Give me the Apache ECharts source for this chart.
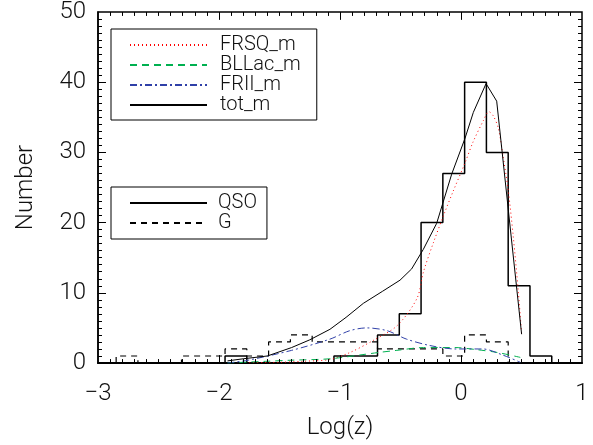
<!DOCTYPE html>
<html>
<head>
<meta charset="utf-8">
<script src="https://cdn.jsdelivr.net/npm/echarts@6/dist/echarts.min.js"></script>
<style>
html,body{margin:0;padding:0;background:#fff;}
#chart{width:593px;height:445px;}
</style>
</head>
<body>
<div id="chart"></div>
<script>
// Histogram bins (Log z), 20 bins
var binEdges = [-2.85,-2.67,-2.49,-2.31,-2.13,-1.95,-1.77,-1.59,-1.41,-1.23,-1.05,-0.87,-0.69,-0.51,-0.33,-0.15,0.03,0.21,0.39,0.57,0.75];
var qsoCounts = [0,0,0,0,0,1,0,0,0,0,1,1,4,7,20,27,40,30,11,1];
var gCounts   = [1,0,0,1,1,2,1,3,4,3,3,3,2,2,2,1,4,3,0,0];

// Model curves
var frsqX = [-1.75,-1.5,-1.3,-1.083,-0.917,-0.727,-0.529,-0.364,-0.31,-0.229,-0.138,-0.064,0.033,0.10,0.184,0.23,0.267,0.309,0.35,0.391,0.432,0.474,0.501];
var frsqY = [0.05,0.1,0.25,0.5,1.5,3.2,5.3,9.2,13.0,17.1,21.3,24.5,28.5,31.5,34.5,35.8,35.2,33.4,29.2,24.5,18.0,10.1,4.1];

var bllacX = [-1.93,-1.6,-1.4,-1.083,-0.81,-0.68,-0.53,-0.31,-0.05,0.13,0.30,0.49];
var bllacY = [0.0,0.25,0.4,0.6,1.2,1.5,1.8,2.2,2.2,1.9,1.5,0.8];

var friiX = [-1.93,-1.76,-1.40,-1.083,-0.92,-0.78,-0.61,-0.45,-0.26,-0.05,0.18,0.35,0.49];
var friiY = [0.0,0.4,1.8,3.4,4.6,5.0,4.6,3.4,2.5,2.0,2.0,1.1,0.1];

var totX = [-1.93,-1.8,-1.6,-1.4,-1.25,-1.083,-0.95,-0.807,-0.65,-0.504,-0.408,-0.311,-0.201,-0.077,0.033,0.102,0.207,0.295,0.501];
var totY = [0.3,0.6,1.0,2.2,3.3,4.8,6.5,8.5,10.2,11.8,13.4,16.2,19.9,26.9,32.0,35.7,39.8,37.3,4.1];

var xTicks = [-3,-2,-1,0,1];
var yTicks = [0,10,20,30,40,50];
var xMinorPerMajor = 10;
var yMinorPerMajor = 10;

// layout (pixels)
var CW = 593, CH = 445, GL = 98, GR = 11, GT = 9, GB = 79;
var MAJOR_LEN = 8, MINOR_LEN = 4;

function histPath(edges, counts){
  var pts = [[edges[0],0]];
  for (var i=0;i<counts.length;i++){
    pts.push([edges[i],counts[i]]);
    pts.push([edges[i+1],counts[i]]);
  }
  pts.push([edges[edges.length-1],0]);
  return pts;
}
function zip(xs, ys){ return xs.map(function(x,i){return [x, ys[i]];}); }

// Tick marks on all four sides as markLine segment pairs (in axis units)
function tickPairs(){
  var xMin = xTicks[0], xMax = xTicks[xTicks.length-1];
  var yMin = yTicks[0], yMax = yTicks[yTicks.length-1];
  var pxPerX = (CW-GL-GR)/(xMax-xMin), pxPerY = (CH-GT-GB)/(yMax-yMin);
  var out = [];
  function seg(a, b){ out.push([{coord:a},{coord:b}]); }
  function xt(v, len){ var d = len/pxPerY; seg([v,yMin],[v,yMin+d]); seg([v,yMax],[v,yMax-d]); }
  function yt(v, len){ var d = len/pxPerX; seg([xMin,v],[xMin+d,v]); seg([xMax,v],[xMax-d,v]); }
  var i,j,step;
  step = (xTicks[1]-xTicks[0])/xMinorPerMajor;
  for (i=0;i<xTicks.length;i++){
    if (i>0 && i<xTicks.length-1) xt(xTicks[i], MAJOR_LEN);
    if (i<xTicks.length-1) for (j=1;j<xMinorPerMajor;j++) xt(xTicks[i]+j*step, MINOR_LEN);
  }
  step = (yTicks[1]-yTicks[0])/yMinorPerMajor;
  for (i=0;i<yTicks.length;i++){
    if (i>0 && i<yTicks.length-1) yt(yTicks[i], MAJOR_LEN);
    if (i<yTicks.length-1) for (j=1;j<yMinorPerMajor;j++) yt(yTicks[i]+j*step, MINOR_LEN);
  }
  return out;
}

var FONT = 'Roboto';
var chart = echarts.init(document.getElementById('chart'));

var option = {
  animation:false,
  grid:{left:GL,right:GR,top:GT,bottom:GB,show:true,
        borderColor:'#000',borderWidth:1.5,backgroundColor:'rgba(0,0,0,0)'},
  xAxis:{type:'value',min:xTicks[0],max:xTicks[xTicks.length-1],interval:1,
      axisLine:{show:true,onZero:false,lineStyle:{color:'#000',width:2}},
      axisTick:{show:false},splitLine:{show:false},
      name:'Log(z)',nameLocation:'middle',nameGap:53,
      nameTextStyle:{fontFamily:FONT,fontWeight:300,fontSize:24,color:'#111'},
      axisLabel:{show:true,margin:19,fontFamily:FONT,fontWeight:300,fontSize:24,color:'#111',
        formatter:function(v){return (v<0?'\u2212':'')+Math.abs(v);}}},
  yAxis:{type:'value',min:yTicks[0],max:yTicks[yTicks.length-1],interval:10,
      axisLine:{show:true,onZero:false,lineStyle:{color:'#000',width:1.5}},
      axisTick:{show:false},splitLine:{show:false},
      name:'Number',nameLocation:'middle',nameGap:60,nameRotate:90,
      nameTextStyle:{fontFamily:FONT,fontWeight:300,fontSize:24,color:'#111'},
      axisLabel:{show:true,margin:12,fontFamily:FONT,fontWeight:300,fontSize:24,color:'#111'}},
  legend:[
    {data:['FRSQ_m','BLLac_m','FRII_m','tot_m'],orient:'vertical',left:111,top:29,
     itemWidth:77,itemHeight:14,itemGap:0,padding:[6,16,5,18],
     itemStyle:{color:'rgba(0,0,0,0)',borderWidth:0},
     borderColor:'#000',borderWidth:1,borderRadius:0,
     textStyle:{fontFamily:FONT,fontWeight:300,fontSize:20,color:'#111',padding:[0,0,0,8]}},
    {data:['QSO','G'],orient:'vertical',left:111,top:187,
     itemWidth:77,itemHeight:14,itemGap:0,padding:[6,10,6,18],
     itemStyle:{color:'rgba(0,0,0,0)',borderWidth:0},
     borderColor:'#000',borderWidth:1,borderRadius:0,
     textStyle:{fontFamily:FONT,fontWeight:300,fontSize:20,color:'#111',padding:[0,0,0,6]}}
  ],
  series:[
    {name:'QSO',type:'line',data:histPath(binEdges,qsoCounts),symbol:'none',clip:false,
     lineStyle:{color:'#000',width:1.5,type:'solid'},itemStyle:{color:'#000'},
     markLine:{silent:true,symbol:['none','none'],animation:false,precision:4,
       label:{show:false},emphasis:{disabled:true},
       lineStyle:{color:'#000',width:1,type:'solid'},
       data:tickPairs()}},
    {name:'G',type:'line',data:histPath(binEdges,gCounts),symbol:'none',
     lineStyle:{color:'#000',width:1.2,type:[6,5]},itemStyle:{color:'#000'}},
    {name:'FRSQ_m',type:'line',data:zip(frsqX,frsqY),symbol:'none',smooth:0.3,
     lineStyle:{color:'#ff0000',width:1,type:[1,3]},itemStyle:{color:'#ff0000'}},
    {name:'BLLac_m',type:'line',data:zip(bllacX,bllacY),symbol:'none',smooth:0.3,
     lineStyle:{color:'#00b050',width:1,type:[7,5]},itemStyle:{color:'#00b050'}},
    {name:'FRII_m',type:'line',data:zip(friiX,friiY),symbol:'none',smooth:0.3,
     lineStyle:{color:'#3040a8',width:1,type:[7,3,2,3]},itemStyle:{color:'#3040a8'}},
    {name:'tot_m',type:'line',data:zip(totX,totY),symbol:'none',
     lineStyle:{color:'#000',width:1,type:'solid'},itemStyle:{color:'#000'}}
  ]
};
chart.setOption(option);
</script>
</body>
</html>
